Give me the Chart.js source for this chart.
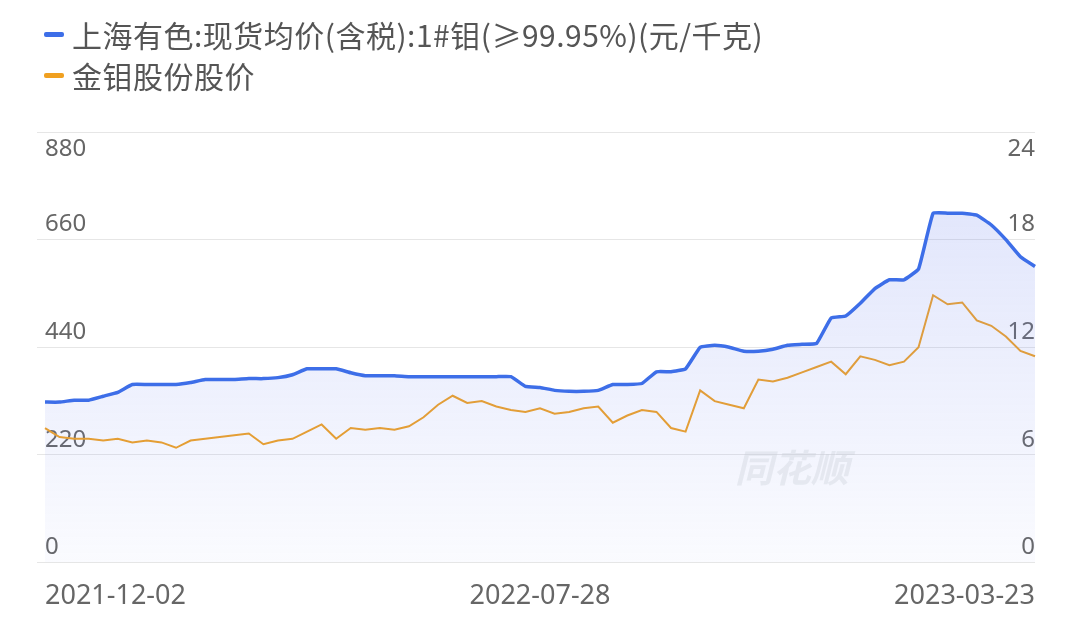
<!DOCTYPE html>
<html><head><meta charset="utf-8">
<script src="https://cdn.jsdelivr.net/npm/chart.js@4"></script>
<style>
body{margin:0;background:#fff;font-family:"Noto Sans CJK SC","Noto Sans",sans-serif;}
#wrap{position:relative;width:1080px;height:631px;}
.lg{position:absolute;left:44px;font-size:30px;color:#555;display:flex;align-items:center;letter-spacing:0.5px;}
.lg span{display:inline-block;width:20px;height:5px;border-radius:2px;margin-right:8px;}
#wm{position:absolute;left:735px;top:438px;font-size:38px;color:rgba(200,205,215,0.35);font-style:italic;font-weight:bold;}
</style></head><body>
<div id="wrap">
<div class="lg" style="top:12px"><span style="background:#3d6ee8"></span>上海有色:现货均价(含税):1#钼(≥99.95%)(元/千克)</div>
<div class="lg" style="top:53px"><span style="background:#f0a020"></span>金钼股份股价</div>
<div id="wm">同花顺</div>
<canvas id="c" width="1080" height="631"></canvas>
</div>
<script>
const startDate = "2021-12-02";
const tickIdx = [0, 34, 68];
const tickLabels = ["2021-12-02", "2022-07-28", "2023-03-23"];
const moPrice = [328,328,332,332,340,348,364,364,364,364,368,374,374,374,376,376,378,384,396,396,396,388,382,382,382,380,380,380,380,380,380,380,380,360,358,352,350,350,352,364,364,366,390,390,396,440,444,440,432,432,436,444,446,448,500,504,530,560,578,578,600,714,714,714,710,690,660,625,605];
const stockPrice = [7.5,7.0,6.9,6.9,6.8,6.9,6.7,6.8,6.7,6.4,6.8,6.9,7.0,7.1,7.2,6.6,6.8,6.9,7.3,7.7,6.9,7.5,7.4,7.5,7.4,7.6,8.1,8.8,9.3,8.9,9.0,8.7,8.5,8.4,8.6,8.3,8.4,8.6,8.7,7.8,8.2,8.5,8.4,7.5,7.3,9.6,9.0,8.8,8.6,10.2,10.1,10.3,10.6,10.9,11.2,10.5,11.5,11.3,11.0,11.2,12.0,14.9,14.4,14.5,13.5,13.2,12.6,11.8,11.5];
const leftTop = "880", rightTop = "24";
const labels = moPrice.map((_, i) => {
  const d = new Date(startDate + "T00:00:00Z"); d.setUTCDate(d.getUTCDate() + 7 * i);
  return d.toISOString().slice(0, 10);
});
const ctx = document.getElementById('c').getContext('2d');
const grad = ctx.createLinearGradient(0, 200, 0, 572);
grad.addColorStop(0, 'rgba(120,140,240,0.22)');
grad.addColorStop(1, 'rgba(120,140,240,0.03)');
const yFont = {size: 24, family: "Noto Sans, sans-serif"};
const xFont = {size: 27, family: "Noto Sans, sans-serif"};
const topLabels = {
  id: 'topLabels',
  afterDraw(chart) {
    const c = chart.ctx, a = chart.chartArea;
    c.save(); c.fillStyle = '#666'; c.font = '24px "Noto Sans", sans-serif'; c.textBaseline = 'middle';
    c.textAlign = 'left'; c.fillText(leftTop, a.left, a.top + 17);
    c.textAlign = 'right'; c.fillText(rightTop, a.right, a.top + 17);
    c.restore();
  }
};
new Chart(ctx, {
  type: 'line',
  data: {labels, datasets: [
    {data: moPrice, borderColor: '#3d6ee8', borderWidth: 3.5, pointRadius: 0, fill: 'origin', backgroundColor: grad, yAxisID: 'y', tension: 0.1},
    {data: stockPrice, borderColor: '#f0a020', borderWidth: 2, pointRadius: 0, fill: false, yAxisID: 'y1', tension: 0}
  ]},
  plugins: [topLabels],
  options: {
    responsive: false, animation: false,
    layout: {padding: {left: 45, right: 45, top: 132, bottom: 8}},
    plugins: {legend: {display: false}, tooltip: {enabled: false}},
    scales: {
      x: {grid: {display: false}, border: {display: false},
        ticks: {autoSkip: false, maxRotation: 0, align: 'inner', color: '#666', font: xFont, padding: 10,
          callback: (v, i) => { const k = tickIdx.indexOf(i); return k >= 0 ? tickLabels[k] : null; }}},
      y: {position: 'left', min: 0, max: 880, grid: {color: '#e6e6e6'}, border: {display: false},
        afterFit: s => { s.width = 0; },
        ticks: {stepSize: 220, mirror: true, padding: 0, labelOffset: -15, color: '#666', font: yFont,
          callback: v => v === 880 ? '' : v}},
      y1: {position: 'right', min: 0, max: 24, grid: {display: false}, border: {display: false},
        afterFit: s => { s.width = 0; },
        ticks: {stepSize: 6, mirror: true, padding: 0, labelOffset: -15, color: '#666', font: yFont,
          callback: v => v === 24 ? '' : v}}
    }
  }
});
</script>
</body></html>
